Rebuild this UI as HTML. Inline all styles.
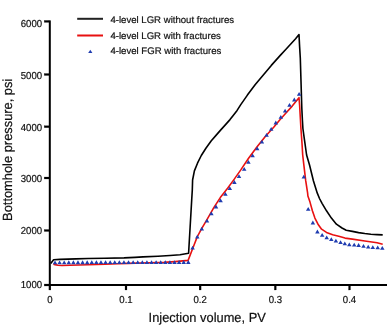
<!DOCTYPE html>
<html><head><meta charset="utf-8"><style>
html,body{margin:0;padding:0;background:#fff;}
body{width:388px;height:326px;overflow:hidden;}
svg{display:block;font-family:"Liberation Sans",sans-serif;will-change:transform;text-rendering:geometricPrecision;}
</style></head><body>
<svg width="388" height="326" viewBox="0 0 388 326">
<g fill="#111" stroke="#111" stroke-width="0.2">
<rect x="44.2" y="20.40" width="5" height="2" fill="#000"/>
<text transform="translate(42.10,26.90) scale(1,1.05)" text-anchor="end" font-size="9.6">6000</text>
<rect x="44.2" y="73.50" width="5" height="2" fill="#000"/>
<text transform="translate(42.10,78.50) scale(1,1.05)" text-anchor="end" font-size="9.6">5000</text>
<rect x="44.2" y="125.70" width="5" height="2" fill="#000"/>
<text transform="translate(42.10,130.50) scale(1,1.05)" text-anchor="end" font-size="9.6">4000</text>
<rect x="44.2" y="177.00" width="5" height="2" fill="#000"/>
<text transform="translate(42.10,182.20) scale(1,1.05)" text-anchor="end" font-size="9.6">3000</text>
<rect x="44.2" y="229.50" width="5" height="2" fill="#000"/>
<text transform="translate(42.10,233.90) scale(1,1.05)" text-anchor="end" font-size="9.6">2000</text>
<rect x="44.2" y="284.00" width="5" height="2" fill="#000"/>
<text transform="translate(42.10,287.70) scale(1,1.05)" text-anchor="end" font-size="9.6">1000</text>
<rect x="48.90" y="285" width="2" height="5" fill="#000"/>
<text transform="translate(49.90,302.50) scale(1,1.05)" text-anchor="middle" font-size="9.6">0</text>
<rect x="125.00" y="285" width="2" height="5" fill="#000"/>
<text transform="translate(126.00,302.50) scale(1,1.05)" text-anchor="middle" font-size="9.6">0.1</text>
<rect x="199.10" y="285" width="2" height="5" fill="#000"/>
<text transform="translate(200.10,302.50) scale(1,1.05)" text-anchor="middle" font-size="9.6">0.2</text>
<rect x="274.30" y="285" width="2" height="5" fill="#000"/>
<text transform="translate(275.30,302.50) scale(1,1.05)" text-anchor="middle" font-size="9.6">0.3</text>
<rect x="348.50" y="285" width="2" height="5" fill="#000"/>
<text transform="translate(349.50,302.50) scale(1,1.05)" text-anchor="middle" font-size="9.6">0.4</text>
<text transform="translate(207.20,321.70) scale(1,1.03)" text-anchor="middle" font-size="12.86">Injection volume, PV</text>
<text transform="translate(11.90,149.80) rotate(-90) scale(1,1.03)" text-anchor="middle" font-size="12.86">Bottomhole pressure, psi</text>
<text transform="translate(110.40,22.50)" font-size="9.6">4-level LGR without fractures</text>
<text transform="translate(110.40,38.70)" font-size="9.6">4-level LGR with fractures</text>
<text transform="translate(110.40,54.40)" font-size="9.6">4-level FGR with fractures</text>
</g>
<rect x="48.8" y="20.4" width="2" height="265.6" fill="#000"/>
<rect x="49" y="284" width="338" height="2" fill="#000"/>
<rect x="77.2" y="17.8" width="25.8" height="2" fill="#222"/>
<rect x="77.2" y="34.5" width="25.8" height="2" fill="#e81010"/>
<path d="M88.20,53.10L90.30,49.70L92.40,53.10Z" fill="#1f3cb0"/>
<polyline points="50.7,263.4 53.6,259.7 60.0,259.4 76.0,258.9 88.0,258.5 105.0,258.2 124.0,257.9 135.0,257.4 143.0,256.9 158.0,256.2 170.0,255.5 180.0,254.8 188.6,253.2 191.7,200.0 192.3,190.0 192.6,180.0 194.4,170.9 197.5,163.2 201.3,155.5 205.9,148.2 211.3,140.7 216.0,135.4 220.8,129.9 226.0,124.1 230.0,119.6 233.2,115.4 237.1,110.4 240.6,104.9 247.4,95.1 255.3,84.5 263.3,75.0 271.3,65.4 280.5,55.1 285.5,49.7 291.0,43.7 295.6,38.7 299.0,34.6 299.6,46.4 300.3,58.0 301.8,108.0 302.4,120.0 302.9,128.5 304.3,138.7 306.6,155.0 309.6,165.3 313.4,180.7 317.2,192.9 319.5,198.5 322.2,203.6 326.5,210.8 331.4,218.1 336.4,224.2 342.0,228.0 346.2,230.2 352.4,231.4 358.6,232.6 364.8,233.5 370.9,234.2 377.1,234.6 382.7,234.9" fill="none" stroke="#000" stroke-width="1.6" stroke-linejoin="round"/>
<polyline points="53.4,264.2 55.0,264.6 58.0,265.2 62.0,265.5 70.0,265.3 88.0,264.8 105.0,264.2 118.0,263.7 128.0,263.4 150.0,262.8 164.0,262.4 175.0,261.6 188.1,260.4 193.3,247.0 197.3,236.6 201.8,228.3 207.4,218.8 213.8,207.6 220.3,197.6 227.6,188.3 234.1,179.4 240.8,169.9 248.4,158.5 256.9,147.1 265.3,136.5 273.7,127.3 279.5,120.2 285.5,113.5 292.2,106.1 299.0,97.7 299.6,105.0 300.9,128.0 302.0,143.3 302.7,155.0 303.9,165.3 305.7,180.7 307.6,192.9 307.9,196.0 310.0,202.1 312.4,210.7 314.9,218.1 318.0,224.2 321.6,229.2 326.5,232.4 332.7,234.7 338.8,236.3 345.0,238.1 352.4,239.1 364.8,241.0 377.1,242.8 382.7,244.2" fill="none" stroke="#e81010" stroke-width="1.6" stroke-linejoin="round"/>
<path d="M52.75,264.20L55.00,260.40L57.25,264.20ZM57.35,264.19L59.60,260.39L61.85,264.19ZM61.94,264.18L64.19,260.38L66.44,264.18ZM66.54,264.17L68.79,260.37L71.04,264.17ZM71.14,264.16L73.39,260.36L75.64,264.16ZM75.73,264.15L77.98,260.35L80.23,264.15ZM80.33,264.14L82.58,260.34L84.83,264.14ZM84.93,264.13L87.18,260.33L89.43,264.13ZM89.52,264.12L91.77,260.32L94.02,264.12ZM94.12,264.11L96.37,260.31L98.62,264.11ZM98.72,264.10L100.97,260.30L103.22,264.10ZM103.31,264.09L105.56,260.29L107.81,264.09ZM107.91,264.08L110.16,260.28L112.41,264.08ZM112.51,264.07L114.76,260.27L117.01,264.07ZM117.10,264.06L119.35,260.26L121.60,264.06ZM121.70,264.04L123.95,260.24L126.20,264.04ZM126.29,264.03L128.54,260.23L130.79,264.03ZM130.89,264.02L133.14,260.22L135.39,264.02ZM135.49,264.01L137.74,260.21L139.99,264.01ZM140.08,264.00L142.33,260.20L144.58,264.00ZM144.68,263.99L146.93,260.19L149.18,263.99ZM149.28,263.98L151.53,260.18L153.78,263.98ZM153.87,263.97L156.12,260.17L158.37,263.97ZM158.47,263.96L160.72,260.16L162.97,263.96ZM163.07,263.95L165.32,260.15L167.57,263.95ZM167.66,263.94L169.91,260.14L172.16,263.94ZM172.26,263.93L174.51,260.13L176.76,263.93ZM176.86,263.92L179.11,260.12L181.36,263.92ZM181.45,263.91L183.70,260.11L185.95,263.91ZM186.05,263.90L188.30,260.10L190.55,263.90ZM190.35,249.50L192.60,245.70L194.85,249.50ZM195.05,238.50L197.30,234.70L199.55,238.50ZM199.55,230.50L201.80,226.70L204.05,230.50ZM204.75,222.50L207.00,218.70L209.25,222.50ZM209.15,215.20L211.40,211.40L213.65,215.20ZM213.75,208.40L216.00,204.60L218.25,208.40ZM218.35,202.30L220.60,198.50L222.85,202.30ZM223.15,195.80L225.40,192.00L227.65,195.80ZM227.55,190.10L229.80,186.30L232.05,190.10ZM232.15,183.90L234.40,180.10L236.65,183.90ZM236.75,178.00L239.00,174.20L241.25,178.00ZM241.95,170.80L244.20,167.00L246.45,170.80ZM246.15,163.70L248.40,159.90L250.65,163.70ZM250.35,157.30L252.60,153.50L254.85,157.30ZM254.95,150.20L257.20,146.40L259.45,150.20ZM259.65,143.50L261.90,139.70L264.15,143.50ZM264.35,136.70L266.60,132.90L268.85,136.70ZM268.95,130.70L271.20,126.90L273.45,130.70ZM273.55,124.40L275.80,120.60L278.05,124.40ZM278.55,118.70L280.80,114.90L283.05,118.70ZM282.85,112.50L285.10,108.70L287.35,112.50ZM287.25,106.80L289.50,103.00L291.75,106.80ZM292.05,101.40L294.30,97.60L296.55,101.40ZM296.85,95.70L299.10,91.90L301.35,95.70ZM301.55,178.50L303.80,174.70L306.05,178.50ZM305.95,210.80L308.20,207.00L310.45,210.80ZM310.60,224.40L312.85,220.60L315.10,224.40ZM315.15,233.40L317.40,229.60L319.65,233.40ZM319.90,236.70L322.15,232.90L324.40,236.70ZM324.45,239.20L326.70,235.40L328.95,239.20ZM329.05,241.10L331.30,237.30L333.55,241.10ZM333.65,242.60L335.90,238.80L338.15,242.60ZM338.30,244.00L340.55,240.20L342.80,244.00ZM342.55,245.30L344.80,241.50L347.05,245.30ZM347.05,246.20L349.30,242.40L351.55,246.20ZM351.95,246.60L354.20,242.80L356.45,246.60ZM356.35,246.90L358.60,243.10L360.85,246.90ZM361.25,247.80L363.50,244.00L365.75,247.80ZM365.95,248.50L368.20,244.70L370.45,248.50ZM370.55,249.10L372.80,245.30L375.05,249.10ZM375.45,249.30L377.70,245.50L379.95,249.30ZM380.05,249.70L382.30,245.90L384.55,249.70Z" fill="#1f3cb0"/>
</svg>
</body></html>
